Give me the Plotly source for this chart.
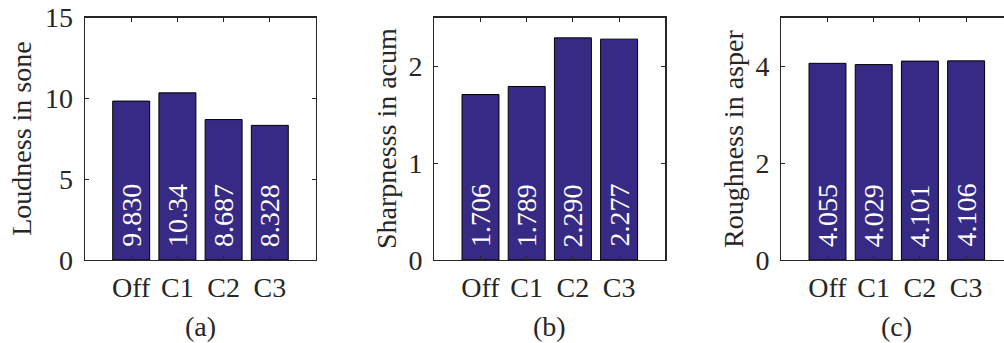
import math
import plotly.graph_objects as go

categories = ["Off", "C1", "C2", "C3"]
loudness = [9.830, 10.34, 8.687, 8.328]
sharpness = [1.706, 1.789, 2.290, 2.277]
roughness = [4.055, 4.029, 4.101, 4.106]
y_titles = ["Loudness in sone", "Sharpnesss in acum", "Roughness in asper"]
panel_labels = ["(a)", "(b)", "(c)"]
y_ranges = [[0, 15], [0, 2.5], [0, 5]]
y_dticks = [5, 1, 2]

W, H = 1004, 343
FONT = "Liberation Serif"
FS = 28
AXC = "#262626"
BAR = "#372a84"

def fmt(v):
    d = 3 - int(math.floor(math.log10(abs(v))))
    return f"{v:.{max(d, 0)}f}"

xpos = [1, 2, 3, 4]
# pixel layout of the three axes boxes
x_left = [85, 434.3, 781.3]
box_w = 231
y_bot, y_top = 260, 17.5

fig = go.Figure()
series = [loudness, sharpness, roughness]
annotations = []
for i, vals in enumerate(series):
    n = "" if i == 0 else str(i + 1)
    fig.add_trace(go.Bar(
        x=xpos, y=vals, width=0.8,
        marker=dict(color=BAR, line=dict(color="black", width=1)),
        xaxis="x" + n, yaxis="y" + n, showlegend=False, hoverinfo="skip",
    ))
    right = min(x_left[i] + box_w, W)
    xr = [0, 5 * (right - x_left[i]) / box_w]
    fig.layout["xaxis" + n] = dict(
        domain=[x_left[i] / W, right / W], range=xr, anchor="y" + n,
        tickvals=xpos, ticktext=categories, automargin=False,
        ticks="inside", ticklen=4, tickcolor=AXC,
        showline=True, linecolor=AXC, linewidth=1.3, mirror="ticks",
        showgrid=False, zeroline=False,
        tickfont=dict(family=FONT, size=FS, color=AXC),
        ticklabelstandoff=2,
    )
    fig.layout["yaxis" + n] = dict(
        domain=[(H - y_bot) / H, (H - y_top) / H], range=y_ranges[i],
        dtick=y_dticks[i], anchor="x" + n, automargin=False,
        ticks="inside", ticklen=4, tickcolor=AXC,
        showline=True, linecolor=AXC, linewidth=1.3,
        mirror="ticks" if i < 2 else False,
        showgrid=False, zeroline=False,
        tickfont=dict(family=FONT, size=FS, color=AXC),
        ticklabelstandoff=5,
    )
    for xv, v in zip(xpos, vals):
        annotations.append(dict(
            x=xv, y=0, xref="x" + n, yref="y" + n, text=fmt(v),
            textangle=-90, showarrow=False, xanchor="center", yanchor="bottom",
            yshift=11, font=dict(family=FONT, size=FS, color="white"),
        ))
    # y title
    annotations.append(dict(
        x=(x_left[i] - (63 if i == 0 else 48)) / W, y=(H - (y_bot + y_top) / 2) / H,
        xref="paper", yref="paper", text=y_titles[i], textangle=-90,
        showarrow=False, xanchor="center", yanchor="middle",
        font=dict(family=FONT, size=FS, color=AXC),
    ))
    # panel label
    annotations.append(dict(
        x=2.5, y=(H - 326) / H, xref="x" + n, yref="paper", text=panel_labels[i],
        showarrow=False, xanchor="center", yanchor="middle",
        font=dict(family=FONT, size=FS, color=AXC),
    ))

fig.update_layout(
    width=W, height=H, margin=dict(l=0, r=0, t=0, b=0),
    paper_bgcolor="white", plot_bgcolor="white",
    annotations=annotations, bargap=0.2, hovermode=False,
)
fig.write_html("out.html", config={"displayModeBar": False, "staticPlot": True},
               post_script="document.body.style.margin='0px';document.body.style.overflow='hidden';")
